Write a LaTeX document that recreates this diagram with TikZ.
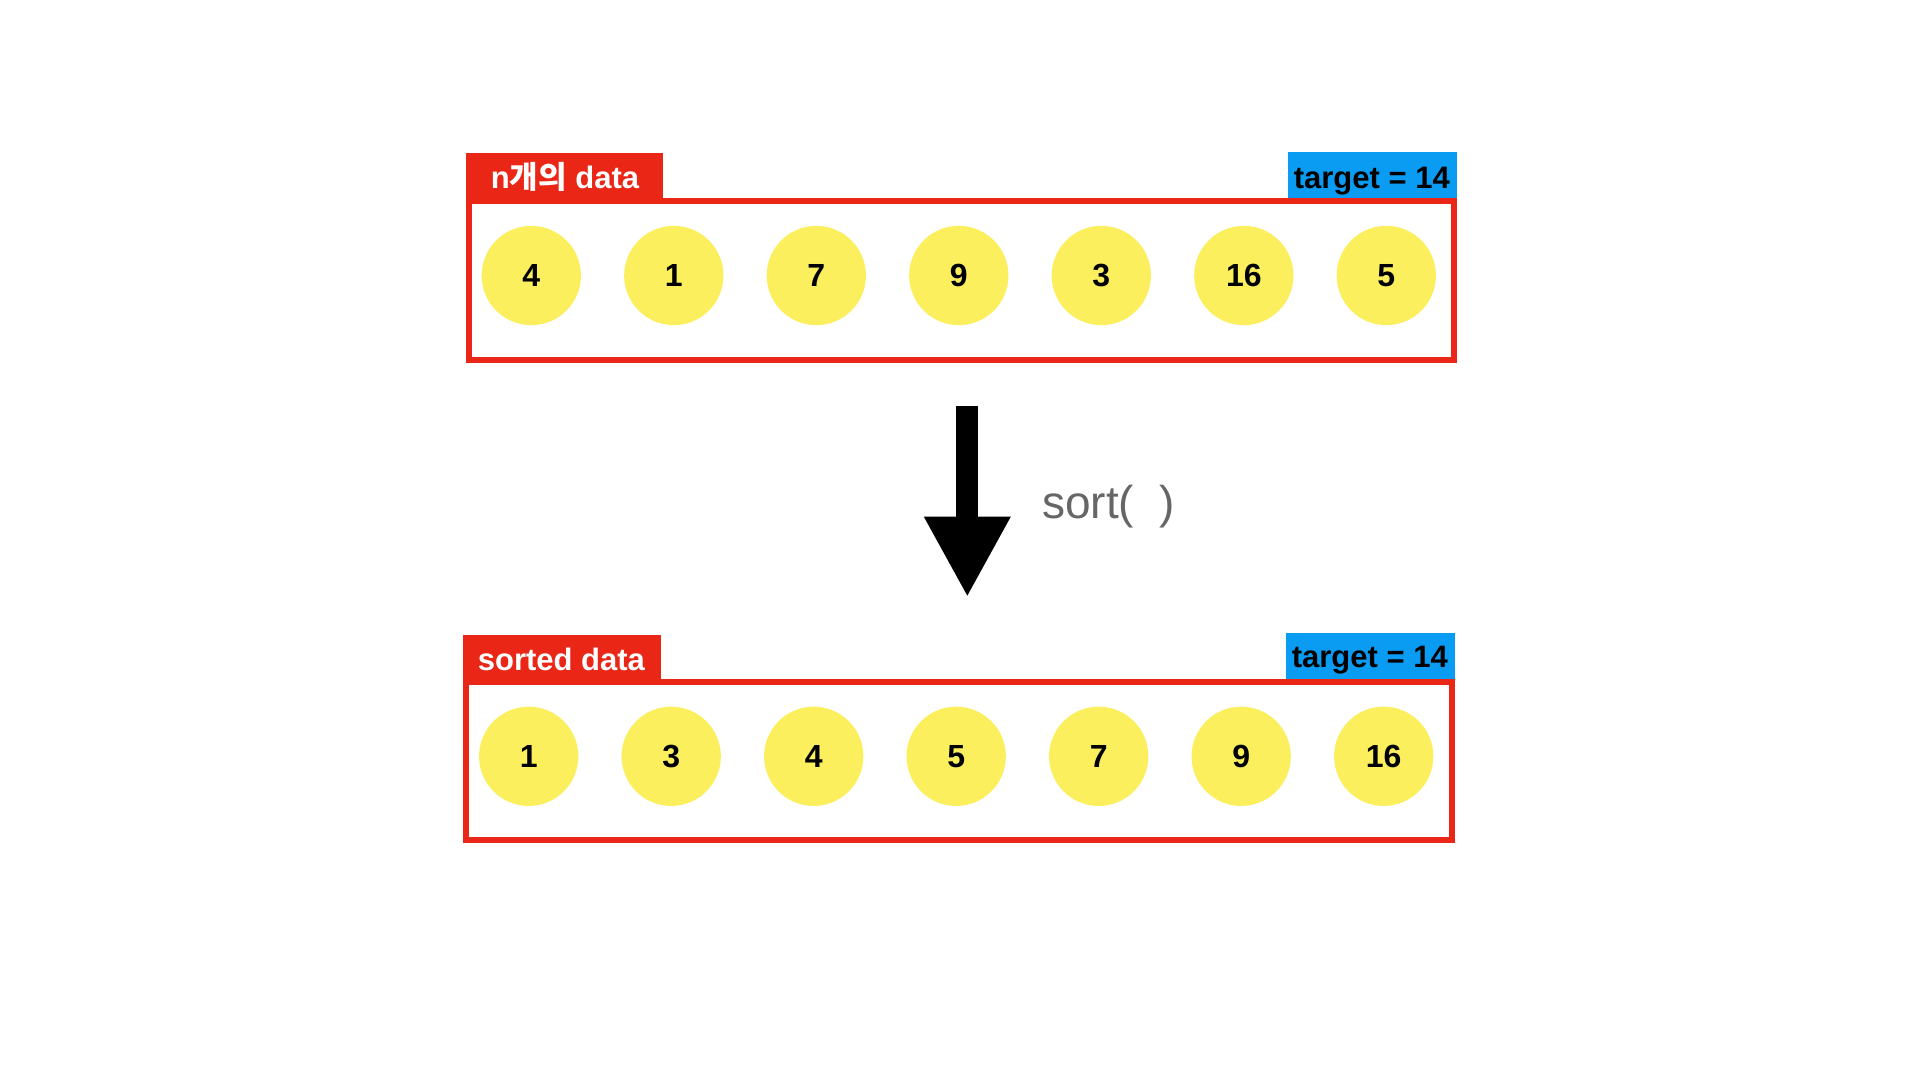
\documentclass[tikz,border=0pt]{standalone}
\usepackage{fontspec}
\setmainfont{Liberation Sans}
\newfontfamily\kr{Noto Sans CJK KR}
\usetikzlibrary{arrows.meta}
\definecolor{boxred}{HTML}{EA2616}
\definecolor{tagblue}{HTML}{0A9CF2}
\definecolor{ball}{HTML}{FCEF5E}
\definecolor{sorttext}{HTML}{666666}
\begin{document}
\begin{tikzpicture}[x=1pt,y=-1pt,
  frame/.style={draw=boxred,line width=6pt,rectangle,inner sep=0pt,outer sep=0pt,anchor=north west},
  redtab/.style={fill=boxred,draw=none},
  bluetab/.style={fill=tagblue,draw=none},
  tabtext/.style={anchor=base west,inner sep=0pt,text=white,font=\fontsize{31}{32}\selectfont\bfseries},
  tagtext/.style={anchor=base east,inner sep=0pt,text=black,font=\fontsize{31}{32}\selectfont\bfseries},
  num/.style={circle,fill=ball,draw=none,minimum size=99.3pt,inner sep=0pt,font=\fontsize{32}{32}\selectfont\bfseries}]
\useasboundingbox (0,0) rectangle (1920,1080);
\fill[white] (0,0) rectangle (1920,1080);

% ---------- top group ----------
\fill[redtab] (465.7,152.7) rectangle (663.3,198);
\fill[bluetab] (1288.3,152.3) rectangle (1457.3,198);
\node[frame,minimum width=985.6pt,minimum height=159pt] (topbox) at (468.7,201) {};
\node[tabtext] (toplabel) at (490.7,188.3) {n{\kr\bfseries 개의} data};
\node[tagtext] (toptarget) at (1450,188.3) {target = 14};
\foreach \v [count=\i from 0] in {4,1,7,9,3,16,5}
  \node[num] (t\i) at (531.3+142.5*\i,275.5) {\v};

% ---------- arrow ----------
\coordinate (arrstart) at (967.3,406);
\coordinate (arrend) at (967.3,597.3);
\draw[line width=22.3pt,-{Triangle[width=80.6pt,length=80.6pt]}] (arrstart) -- (arrend);
\node[anchor=base west,inner sep=0pt,text=sorttext,font=\fontsize{46}{46}\selectfont] (sortlabel) at (1042,518) {sort(\ \ )};

% ---------- bottom group ----------
\fill[redtab] (462.7,635) rectangle (660.7,679.3);
\fill[bluetab] (1286,633.3) rectangle (1455,679.3);
\node[frame,minimum width=986.3pt,minimum height=158.3pt] (botbox) at (465.7,682) {};
\node[tabtext] (botlabel) at (477.7,670) {sorted data};
\node[tagtext] (bottarget) at (1448,667.7) {target = 14};
\foreach \v [count=\i from 0] in {1,3,4,5,7,9,16}
  \node[num] (b\i) at (528.7+142.5*\i,756.3) {\v};
\end{tikzpicture}
\end{document}
